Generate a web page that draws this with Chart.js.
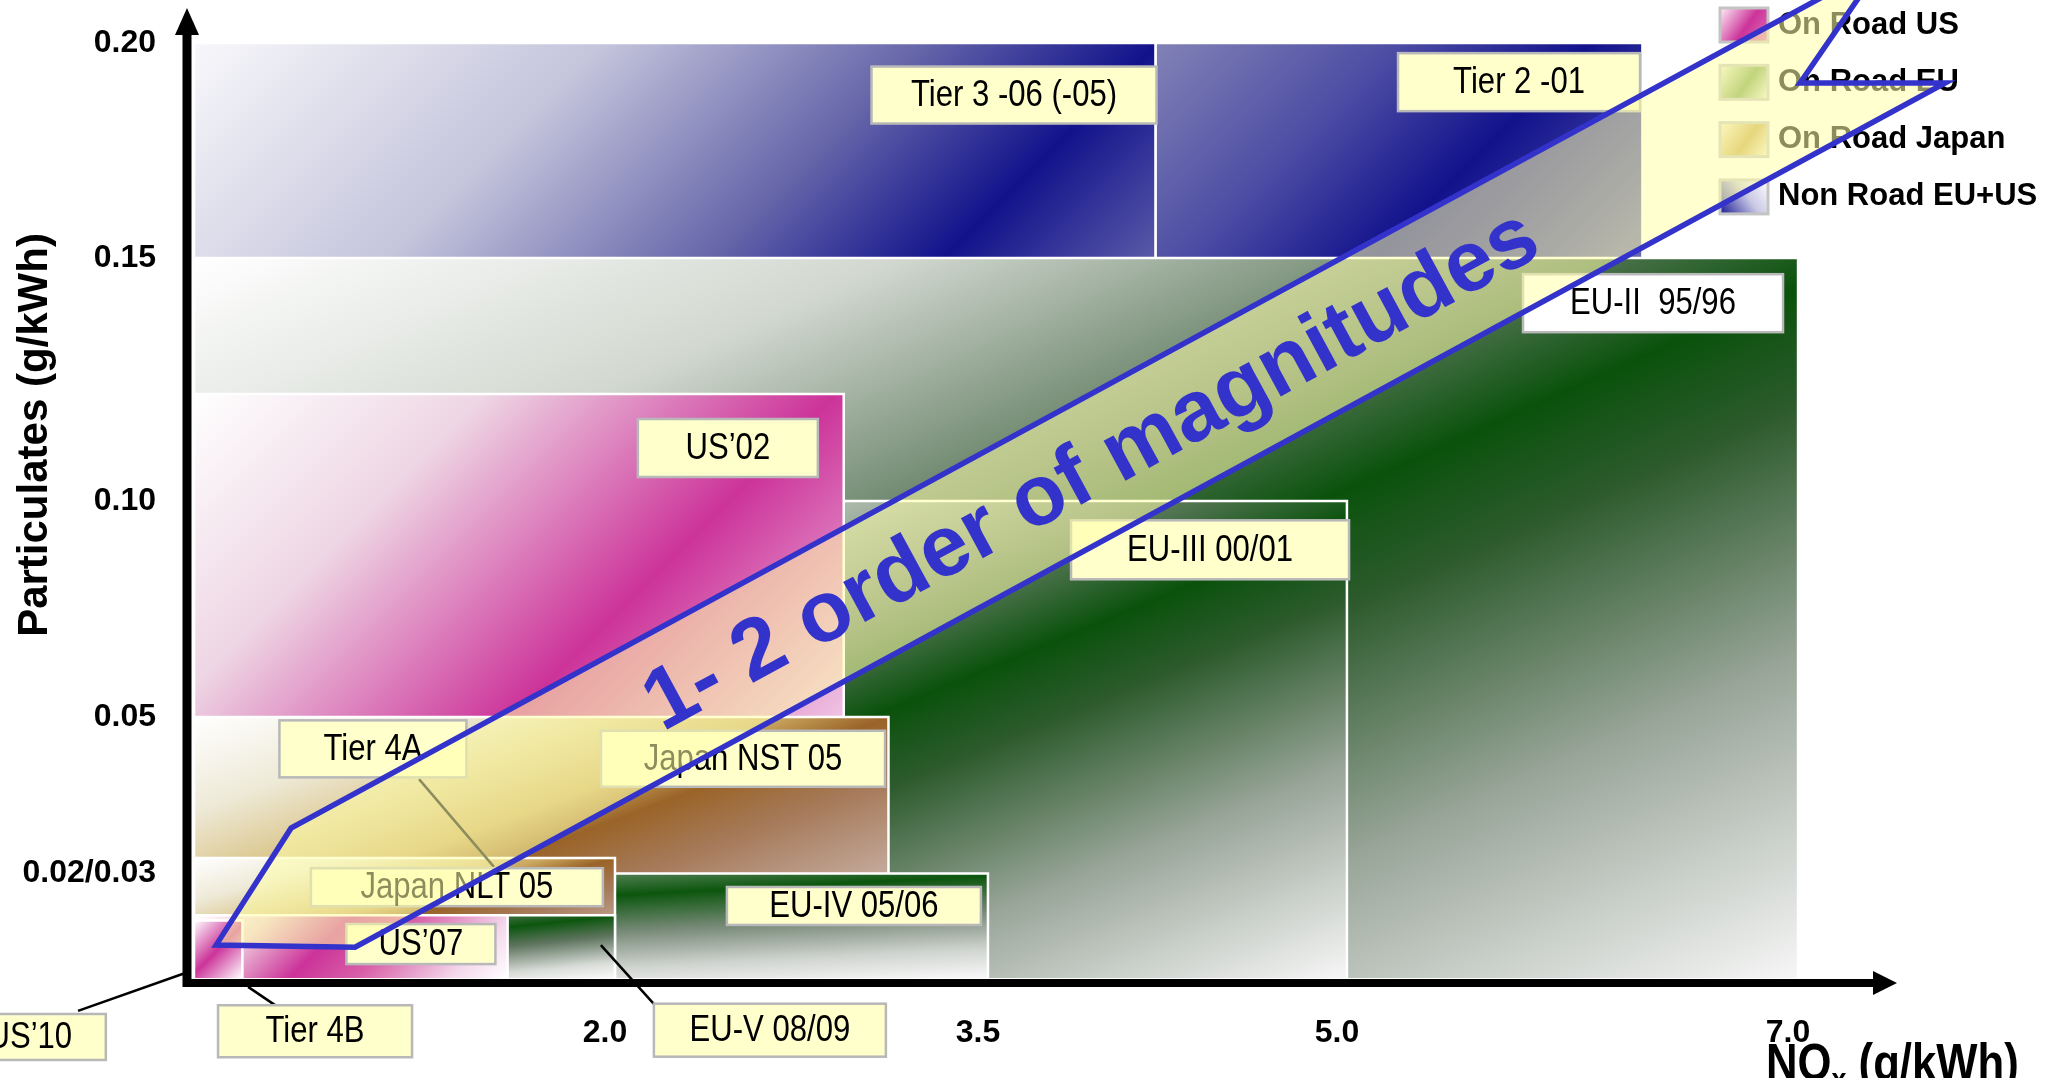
<!DOCTYPE html>
<html>
<head>
<meta charset="utf-8">
<title>NOx / PM emission limits</title>
<script src="https://cdn.jsdelivr.net/npm/chart.js@4.4.1/dist/chart.umd.min.js"></script>
<style>
  html, body { margin: 0; padding: 0; background: #fff; }
  #wrap { width: 2051px; height: 1078px; position: relative; overflow: hidden; }
</style>
</head>
<body>
<div id="wrap"><canvas id="limits" width="2051" height="1078"></canvas></div>
<script>
// limit boxes, listed bottom-most first (later ones are painted on top)
const regionNames = ['Non Road Tier 2', 'Non Road Tier 3', 'EU-II', 'EU-III', 'US 2002', 'Japan NST 05',
  'EU-IV', 'Japan NLT 05', 'EU-V', 'US 2007', 'US 2010'];
const regionShade = ['nr2', 'nr3', 'eu', 'eu', 'us', 'jp', 'eu4', 'jp', 'eu5', 'us07', 'us10'];
const noxFrom = [4.2, 0, 0, 0, 0, 0, 0, 0, 0, 0, 0];
const noxTo   = [6.31, 4.2, 7.0, 5.0, 2.92, 3.10, 3.5, 2.0, 2.0, 1.49, 0.23];
const pmFrom  = [0.15, 0.15, 0, 0, 0.05, 0, 0, 0, 0, 0, 0];
const pmTo    = [0.20, 0.20, 0.15, 0.10, 0.122, 0.05, 0.02, 0.023, 0.012, 0.012, 0.011];

// axis ticks
const xTicks = [2.0, 3.5, 5.0, 7.0];
const yTicks = [0.02, 0.05, 0.10, 0.15, 0.20];
const yTickText = ['0.02/0.03', '0.05', '0.10', '0.15', '0.20'];

// callout boxes (centre in NOx / PM units)
const noteText = ['Tier 3 -06 (-05)', 'Tier 2 -01', 'EU-II  95/96', 'EU-III 00/01', 'US\u201902', 'Tier 4A',
  'Japan NST 05', 'Japan NLT 05', 'EU-IV 05/06', 'US\u201907', 'US\u201910', 'Tier 4B', 'EU-V 08/09'];
const noteNox = [3.609, 5.763, 6.357, 4.428, 2.454, 0.850, 2.515, 1.249, 2.961, 1.078, -0.78, 0.575, 2.623];
const notePm  = [0.1879, 0.1909, 0.1407, 0.0887, 0.1109, 0.0439, 0.0420, 0.0174, 0.0138, 0.0065, -0.0113, -0.0102, -0.0100];

// leader lines from callouts to their boxes
const leaderNox = [[-0.551, -0.038], [0.257, 0.385], [1.069, 1.425], [1.933, 2.157]];
const leaderPm  = [[-0.0063, 0.001], [-0.0017, -0.0052], [0.0381, 0.0213], [0.0063, -0.0050]];

// the big "reduction" arrow outline
const arrowNox = [0.105, 0.461, 7.368, 7.009, 7.652, 0.765];
const arrowPm  = [0.0063, 0.0287, 0.2181, 0.1907, 0.1907, 0.0059];
const arrowText = '1- 2 order of magnitudes';
const arrowTextAt = [3.935, 0.106];

const legendLabels = ['On Road US', 'On Road EU', 'On Road Japan', 'Non Road EU+US'];

// ---- styling ----
const FONT = '"Liberation Sans", Arial, Helvetica, sans-serif';
const BLUE = '#3333cc';
const CONDENSE = 0.84; // horizontal squeeze for the narrow lettering

// the axes are hand-spaced: value -> fraction of axis length
const X_SPACING = [[0, 0], [2, 0.2472], [3.5, 0.4662], [5, 0.6770], [7, 0.9419]];
const Y_SPACING = [[0, 0], [0.05, 0.2696], [0.10, 0.4928], [0.15, 0.7438], [0.20, 0.9659]];

const SHADES = {
  nr3: { angle: 45, stops: [[0, '#f8f8fb'], [0.35, '#c4c4dc'], [0.62, '#6666aa'], [0.82, '#12128c'], [1, '#5a5aa8']] },
  nr2: { angle: 45, stops: [[0, '#8282b6'], [0.35, '#4c4ca4'], [0.62, '#12128c'], [0.82, '#3a3a9e'], [1, '#6a6aae']] },
  eu:  { stretch: true, stops: [[0, '#ffffff'], [0.22, '#d2d8d0'], [0.42, '#5e7a5e'], [0.52, '#0a520c'], [0.6, '#2c5a2c'], [0.78, '#9aa69a'], [1, '#f6f6f6']] },
  eu4: { angle: 87, stops: [[0, '#98a898'], [0.3, '#0c560e'], [0.55, '#788a78'], [0.8, '#d0d4d0'], [1, '#f8f8f8']] },
  eu5: { angle: 84, stops: [[0, '#c0c8c0'], [0.25, '#5a7a5a'], [0.42, '#0c560e'], [0.6, '#5e745e'], [0.85, '#d8dcd8'], [1, '#fafafa']] },
  us:  { angle: 45, stops: [[0, '#ffffff'], [0.3, '#eed6e4'], [0.66, '#cc3399'], [1, '#efc4e4']] },
  us07:{ angle: 45, stops: [[0, '#ffffff'], [0.2, '#eec8dc'], [0.42, '#cc3399'], [0.6, '#d860a8'], [0.85, '#f4d8ec'], [1, '#ffffff']] },
  us10:{ angle: 45, stops: [[0, '#ffffff'], [0.5, '#cc3399'], [1, '#ffffff']] },
  jp:  { stretch: true, stops: [[0, '#ffffff'], [0.18, '#eeead8'], [0.32, '#dcc890'], [0.42, '#cba860'], [0.5, '#9a6428'], [0.62, '#a67a5a'], [0.8, '#c4aa9c'], [1, '#eee6e4']] }
};

const NOTE_BOX = [[285, 57], [242, 58], [260, 58], [278, 59], [180, 58], [187, 57], [284, 56], [292, 38],
  [254, 38], [149, 40], [152, 46], [194, 52], [232, 53]];
const plainNotes = new Set(['EU-II  95/96']);

function spaced(stops, v) {
  let i = 1;
  while (i < stops.length - 1 && v > stops[i][0]) i++;
  const [v0, d0] = stops[i - 1], [v1, d1] = stops[i];
  return d0 + (v - v0) * (d1 - d0) / (v1 - v0);
}
function unspaced(stops, d) {
  let i = 1;
  while (i < stops.length - 1 && d > stops[i][1]) i++;
  const [v0, d0] = stops[i - 1], [v1, d1] = stops[i];
  return v0 + (d - d0) * (v1 - v0) / (d1 - d0);
}

class SpacedScale extends Chart.LinearScale {
  static id = 'spaced';
  static defaults = Chart.LinearScale.defaults;
  spacing() { return this.axis === 'x' ? X_SPACING : Y_SPACING; }
  getPixelForValue(value) { return this.getPixelForDecimal(spaced(this.spacing(), value)); }
  getValueForPixel(pixel) { return unspaced(this.spacing(), this.getDecimalForPixel(pixel)); }
}
Chart.register(SpacedScale);

function regionRect(chart, i) {
  const { x, y } = chart.scales;
  const l = x.getPixelForValue(noxFrom[i]), r = x.getPixelForValue(noxTo[i]);
  const t = y.getPixelForValue(pmTo[i]), b = y.getPixelForValue(pmFrom[i]);
  return { x: l, y: t, w: r - l, h: b - t };
}

function makeGradient(g, r, shade) {
  let dx, dy;
  if (shade.stretch) {
    // diagonal that follows the box shape (bands parallel to the other diagonal)
    const k = 2 * r.w * r.h / (r.w * r.w + r.h * r.h);
    dx = r.h * k; dy = r.w * k;
  } else {
    const a = shade.angle * Math.PI / 180;
    const len = r.w * Math.cos(a) + r.h * Math.sin(a);
    dx = Math.cos(a) * len; dy = Math.sin(a) * len;
  }
  const grad = g.createLinearGradient(r.x, r.y, r.x + dx, r.y + dy);
  shade.stops.forEach(([t, c]) => grad.addColorStop(t, c));
  return grad;
}

function shadeFor(i) {
  return (context) => {
    const chart = context.chart;
    if (!chart.chartArea) return 'rgba(0,0,0,0)';
    return makeGradient(chart.ctx, regionRect(chart, i), SHADES[regionShade[i]]);
  };
}

const datasets = regionNames.map((name, i) => ({
  label: name,
  data: [
    { x: noxFrom[i], y: pmFrom[i] },
    { x: noxFrom[i], y: pmTo[i] },
    { x: noxTo[i], y: pmTo[i] },
    { x: noxTo[i], y: pmFrom[i] }
  ],
  fill: { value: pmFrom[i] },
  backgroundColor: shadeFor(i),
  borderColor: '#ffffff',
  borderWidth: 2.5,
  pointRadius: 0,
  pointHoverRadius: 0,
  tension: 0
})).reverse(); // first dataset is drawn last

function legendSwatch(g, i, x, y, w, h) {
  let grad;
  if (i === 3) {
    grad = g.createLinearGradient(x, y + h, x + w, y);
    grad.addColorStop(0, '#1a1a96'); grad.addColorStop(0.55, '#c8c8e4'); grad.addColorStop(1, '#ffffff');
  } else {
    const mid = ['#cc3399', '#78a048', '#c8a448'][i];
    const ends = [['#fff0f8', '#e070b8'], ['#f0f4dc', '#f4f6e4'], ['#f8f0d8', '#f8f2dc']][i];
    grad = g.createLinearGradient(x, y, x + w, y + h);
    grad.addColorStop(0, ends[0]); grad.addColorStop(0.55, mid); grad.addColorStop(1, ends[1]);
  }
  g.fillStyle = grad;
  g.fillRect(x, y, w, h);
  g.strokeStyle = '#c4c4c4';
  g.lineWidth = 3;
  g.strokeRect(x, y, w, h);
}

// text squeezed horizontally, anchored at (x, y)
function narrowText(g, text, x, y) {
  g.save();
  g.translate(x, y);
  g.scale(CONDENSE, 1);
  g.fillText(text, 0, 0);
  g.restore();
}

const annotate = {
  id: 'annotate',
  afterDatasetsDraw(chart) {
    const { ctx, chartArea: area, scales: { x, y } } = chart;
    const px = v => x.getPixelForValue(v), py = v => y.getPixelForValue(v);
    ctx.save();

    // leader lines
    ctx.lineWidth = 2.5;
    ctx.strokeStyle = '#000';
    leaderNox.forEach((xs, i) => {
      ctx.beginPath();
      ctx.moveTo(px(xs[0]), py(leaderPm[i][0]));
      ctx.lineTo(px(xs[1]), py(leaderPm[i][1]));
      ctx.stroke();
    });

    // callout boxes
    ctx.font = `37px ${FONT}`;
    ctx.textAlign = 'center';
    ctx.textBaseline = 'middle';
    noteText.forEach((t, i) => {
      const cx = px(noteNox[i]), cy = py(notePm[i]);
      const [w, h] = NOTE_BOX[i];
      ctx.fillStyle = plainNotes.has(t) ? '#ffffff' : '#ffffcc';
      ctx.fillRect(cx - w / 2, cy - h / 2, w, h);
      ctx.strokeStyle = '#b8b8b8';
      ctx.lineWidth = 2.5;
      ctx.strokeRect(cx - w / 2, cy - h / 2, w, h);
      ctx.fillStyle = '#000';
      narrowText(ctx, t, cx, cy + 1);
    });

    // legend
    ctx.textAlign = 'left';
    ctx.font = `bold 31px ${FONT}`;
    legendLabels.forEach((name, i) => {
      const top = 8 + i * 57.3;
      legendSwatch(ctx, i, 1720, top, 48, 34);
      ctx.fillStyle = '#000';
      ctx.fillText(name, 1778, top + 17);
    });

    // reduction arrow, translucent over everything below it
    ctx.beginPath();
    arrowNox.forEach((v, i) => {
      const ax = px(v), ay = py(arrowPm[i]);
      if (i === 0) ctx.moveTo(ax, ay); else ctx.lineTo(ax, ay);
    });
    ctx.closePath();
    ctx.fillStyle = 'rgba(255,255,170,0.55)';
    ctx.fill();
    ctx.strokeStyle = BLUE;
    ctx.lineWidth = 5.5;
    ctx.lineJoin = 'miter';
    ctx.stroke();

    // text along the arrow
    const ang = Math.atan2(py(arrowPm[2]) - py(arrowPm[1]), px(arrowNox[2]) - px(arrowNox[1]));
    ctx.save();
    ctx.translate(px(arrowTextAt[0]), py(arrowTextAt[1]));
    ctx.rotate(ang);
    ctx.font = `bold 86px ${FONT}`;
    ctx.textAlign = 'center';
    ctx.fillStyle = BLUE;
    ctx.fillText(arrowText, 0, 0);
    ctx.restore();

    // axis arrows
    ctx.fillStyle = '#000';
    ctx.strokeStyle = '#000';
    const ax = area.left - 7, ay = area.bottom + 5;
    ctx.lineWidth = 9;
    ctx.beginPath(); ctx.moveTo(ax, ay + 4); ctx.lineTo(ax, area.top + 22); ctx.stroke();
    ctx.beginPath(); ctx.moveTo(ax, area.top - 2); ctx.lineTo(ax - 12, area.top + 25); ctx.lineTo(ax + 12, area.top + 25); ctx.closePath(); ctx.fill();
    ctx.lineWidth = 8;
    ctx.beginPath(); ctx.moveTo(ax - 4, ay); ctx.lineTo(area.right - 20, ay); ctx.stroke();
    ctx.beginPath(); ctx.moveTo(area.right, ay); ctx.lineTo(area.right - 24, ay - 12); ctx.lineTo(area.right - 24, ay + 12); ctx.closePath(); ctx.fill();

    // axis titles
    ctx.save();
    ctx.translate(35, 435);
    ctx.rotate(-Math.PI / 2);
    ctx.textAlign = 'center';
    ctx.font = `bold 42px ${FONT}`;
    ctx.fillText('Particulates (g/kWh)', 0, 0);
    ctx.restore();

    ctx.textAlign = 'left';
    ctx.textBaseline = 'alphabetic';
    let tx = 1766;
    ctx.font = `bold 52px ${FONT}`;
    narrowText(ctx, 'NO', tx, 1080);
    tx += ctx.measureText('NO').width * CONDENSE;
    ctx.font = `bold 32px ${FONT}`;
    narrowText(ctx, 'x', tx, 1090);
    tx += ctx.measureText('x').width * CONDENSE;
    ctx.font = `bold 52px ${FONT}`;
    narrowText(ctx, ' (g/kWh)', tx, 1080);

    ctx.restore();
  }
};

new Chart(document.getElementById('limits'), {
  type: 'line',
  data: { datasets },
  options: {
    responsive: false,
    animation: false,
    events: [],
    layout: { autoPadding: false, padding: { top: 10, right: 154, left: 0, bottom: 0 } },
    plugins: { legend: { display: false }, tooltip: { enabled: false } },
    scales: {
      x: {
        type: 'spaced', position: 'bottom', min: 0, max: 7.437,
        grid: { display: false }, border: { display: false },
        afterBuildTicks: s => { s.ticks = xTicks.map(v => ({ value: v })); },
        afterFit: s => { s.height = 100; s.paddingLeft = 0; s.paddingRight = 0; },
        ticks: {
          autoSkip: false, maxRotation: 0, minRotation: 0, padding: 28, labelOffset: -10,
          color: '#000', font: { family: FONT, size: 32, weight: 'bold' },
          callback: v => Number(v).toFixed(1)
        }
      },
      y: {
        type: 'spaced', position: 'left', min: 0, max: 0.2077,
        grid: { display: false }, border: { display: false },
        afterBuildTicks: s => { s.ticks = yTicks.map(v => ({ value: v })); },
        afterFit: s => { s.width = 194; s.paddingTop = 0; s.paddingBottom = 0; },
        ticks: {
          autoSkip: false, padding: 30,
          color: '#000', font: { family: FONT, size: 32, weight: 'bold' },
          callback: (v, i) => yTickText[i]
        }
      }
    }
  },
  plugins: [annotate]
});
</script>
</body>
</html>
